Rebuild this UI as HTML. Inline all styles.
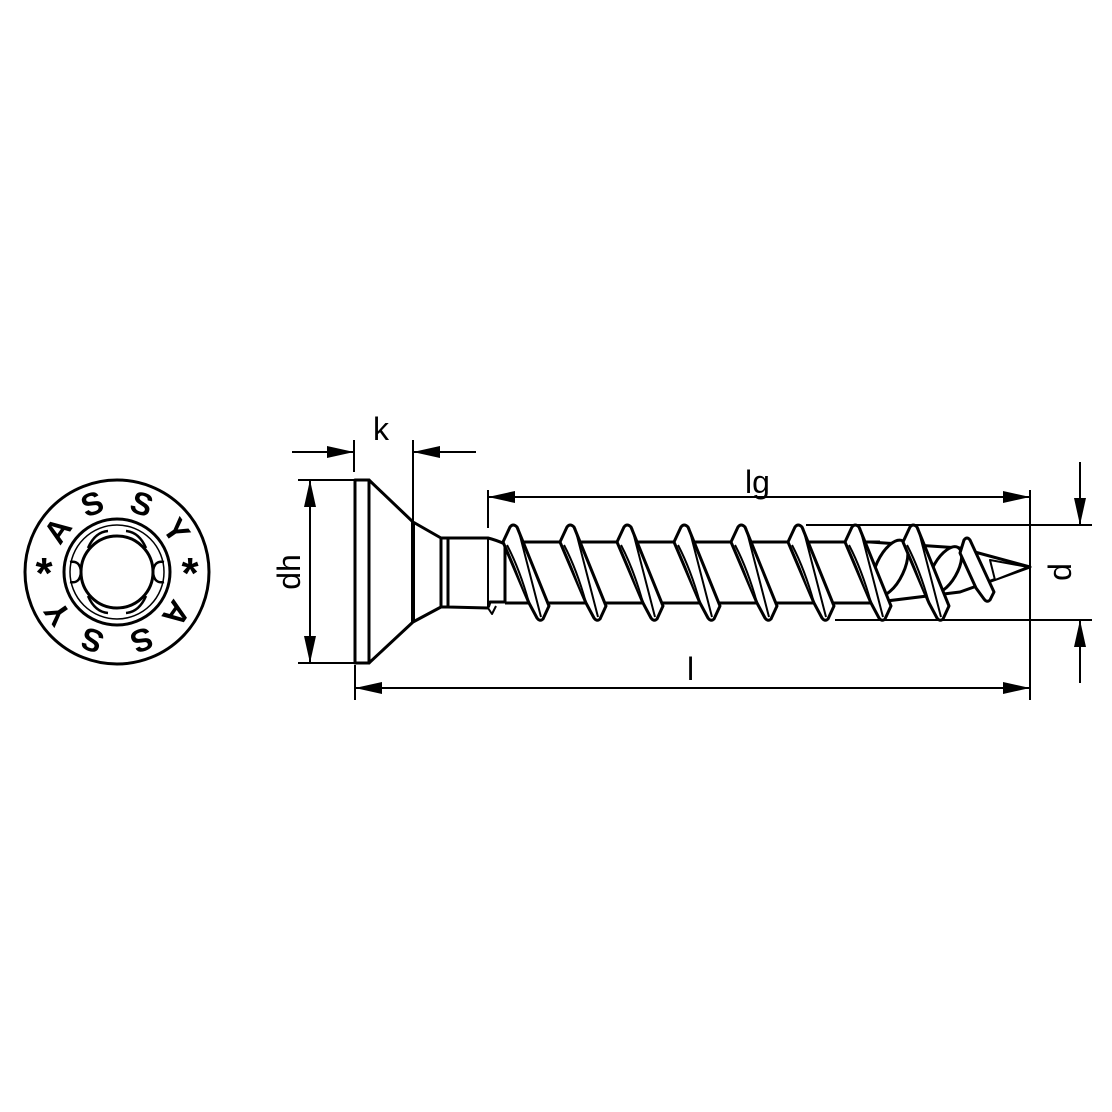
<!DOCTYPE html>
<html><head><meta charset="utf-8"><style>html,body{margin:0;padding:0;background:#fff}svg{display:block}</style></head>
<body>
<svg width="1112" height="1112" viewBox="0 0 1112 1112" xmlns="http://www.w3.org/2000/svg" font-family="Liberation Sans, sans-serif">
<rect width="1112" height="1112" fill="#fff"/>
<g fill="none" stroke="#000" stroke-width="3">
<circle cx="117" cy="572" r="92"/>
<circle cx="117" cy="572" r="53"/>
<circle cx="117" cy="572" r="36"/>
<circle cx="117" cy="572" r="47" stroke-width="1.5"/>
</g>
<g fill="none" stroke="#000" stroke-width="2.5">
<path d="M88 548 Q95 532 108 531 M146 548 Q139 532 126 531 M88 596 Q95 612 108 613 M146 596 Q139 612 126 613 M70 562 Q80 560 81 572 Q80 584 70 582 M164 562 Q154 560 153 572 Q154 584 164 582"/>
</g>
<g font-size="32" font-weight="bold" text-anchor="middle" fill="#000">
<text transform="translate(117 572) rotate(-20) translate(0 -70)" dominant-baseline="middle">S</text>
<text transform="translate(117 572) rotate(20) translate(0 -70)" dominant-baseline="middle">S</text>
<text transform="translate(117 572) rotate(-55) translate(0 -70)" dominant-baseline="middle">A</text>
<text transform="translate(117 572) rotate(55) translate(0 -70)" dominant-baseline="middle">Y</text>
<text transform="translate(117 572) rotate(160) translate(0 -70)" dominant-baseline="middle">S</text>
<text transform="translate(117 572) rotate(-160) translate(0 -70)" dominant-baseline="middle">S</text>
<text transform="translate(117 572) rotate(125) translate(0 -70)" dominant-baseline="middle">A</text>
<text transform="translate(117 572) rotate(-125) translate(0 -70)" dominant-baseline="middle">Y</text>
<text x="44" y="588" font-size="44">*</text>
<text x="190" y="588" font-size="44">*</text>
</g>
<!-- side view -->
<g fill="#fff" stroke="#000" stroke-width="3" stroke-linejoin="round">
<rect x="355" y="480" width="14" height="183"/>
<path d="M369 480 L413 522 L441 538 L441 607 L413 622 L369 663 Z"/>
<line x1="413" y1="522" x2="413" y2="622" stroke-width="4"/>
<rect x="441" y="538" width="7" height="69"/>
<path d="M448 538 L488 538 Q496 540 505 544 L505 602 L490 602 L488 608 L448 607 Z"/>
<line x1="488" y1="538" x2="488" y2="608" stroke-width="2"/>
<path d="M488 608 L492 614 L496 606" stroke-width="2"/>
<path d="M505 542 L880 542 M505 603 L880 603" />
<path d="M870 542 L960 548 L1030 567 L960 592 L870 603" />
</g>
<g fill="#fff" stroke="#000" stroke-width="3" stroke-linejoin="round">
<path d="M503 542 L510 527 Q513 523 517 527 L549 606 L543 619 Q540 622 537 618 L529 603 Z"/>
<path d="M507 545 Q520 570 529 603 M518 528 Q530 575 541 617" stroke-width="2"/>
<path d="M560 542 L567 527 Q570 523 574 527 L606 606 L600 619 Q597 622 594 618 L586 603 Z"/>
<path d="M564 545 Q577 570 586 603 M575 528 Q587 575 598 617" stroke-width="2"/>
<path d="M617 542 L624 527 Q627 523 631 527 L663 606 L657 619 Q654 622 651 618 L643 603 Z"/>
<path d="M621 545 Q634 570 643 603 M632 528 Q644 575 655 617" stroke-width="2"/>
<path d="M674 542 L681 527 Q684 523 688 527 L720 606 L714 619 Q711 622 708 618 L700 603 Z"/>
<path d="M678 545 Q691 570 700 603 M689 528 Q701 575 712 617" stroke-width="2"/>
<path d="M731 542 L738 527 Q741 523 745 527 L777 606 L771 619 Q768 622 765 618 L757 603 Z"/>
<path d="M735 545 Q748 570 757 603 M746 528 Q758 575 769 617" stroke-width="2"/>
<path d="M788 542 L795 527 Q798 523 802 527 L834 606 L828 619 Q825 622 822 618 L814 603 Z"/>
<path d="M792 545 Q805 570 814 603 M803 528 Q815 575 826 617" stroke-width="2"/>
<ellipse cx="890" cy="568" rx="14" ry="30" transform="rotate(25 890 568)"/>
<path d="M845 542 L852 527 Q855 523 859 527 L891 606 L885 619 Q882 622 879 618 L871 603 Z"/>
<path d="M849 545 Q862 570 871 603 M860 528 Q872 575 883 617" stroke-width="2"/>
<ellipse cx="945" cy="570" rx="12" ry="26" transform="rotate(30 945 570)"/>
<path d="M903 542 L910 527 Q913 523 917 527 L949 606 L943 619 Q940 622 937 618 L929 603 Z"/>
<path d="M907 545 Q920 570 929 603 M918 528 Q930 575 941 617" stroke-width="2"/>
<path d="M960 553 L964 540 Q967 536 970 540 L994 592 L990 600 Q987 603 984 599 L976 588 Z"/>
<path d="M990 560 L1028 567 L995 580 Z" stroke-width="2"/>
</g>
<!-- dimensions -->
<g stroke="#000" stroke-width="2" fill="none">
<line x1="354" y1="440" x2="354" y2="472"/>
<line x1="413" y1="440" x2="413" y2="522"/>
<line x1="292" y1="452" x2="354" y2="452"/>
<line x1="413" y1="452" x2="476" y2="452"/>
<line x1="298" y1="480" x2="355" y2="480"/>
<line x1="298" y1="663" x2="355" y2="663"/>
<line x1="310" y1="480" x2="310" y2="663"/>
<line x1="488" y1="490" x2="488" y2="528"/>
<line x1="1030" y1="490" x2="1030" y2="700"/>
<line x1="488" y1="497" x2="1030" y2="497"/>
<line x1="355" y1="665" x2="355" y2="700"/>
<line x1="355" y1="688" x2="1030" y2="688"/>
<line x1="806" y1="525" x2="1092" y2="525"/>
<line x1="835" y1="620" x2="1092" y2="620"/>
<line x1="1080" y1="462" x2="1080" y2="525"/>
<line x1="1080" y1="620" x2="1080" y2="683"/>
</g>
<g fill="#000">
<path d="M354 452 L327 446 L327 458 Z"/>
<path d="M413 452 L440 446 L440 458 Z"/>
<path d="M310 480 L304 507 L316 507 Z"/>
<path d="M310 663 L304 636 L316 636 Z"/>
<path d="M488 497 L515 491 L515 503 Z"/>
<path d="M1030 497 L1003 491 L1003 503 Z"/>
<path d="M355 688 L382 682 L382 694 Z"/>
<path d="M1030 688 L1003 682 L1003 694 Z"/>
<path d="M1080 525 L1074 498 L1086 498 Z"/>
<path d="M1080 620 L1074 647 L1086 647 Z"/>
</g>
<g font-size="32" fill="#000">
<text x="373" y="440">k</text>
<text x="745" y="493">lg</text>
<text x="687" y="680">l</text>
<text transform="translate(300 572) rotate(-90)" text-anchor="middle">dh</text>
<text transform="translate(1071 572) rotate(-90)" text-anchor="middle">d</text>
</g>
</svg>
</body></html>
